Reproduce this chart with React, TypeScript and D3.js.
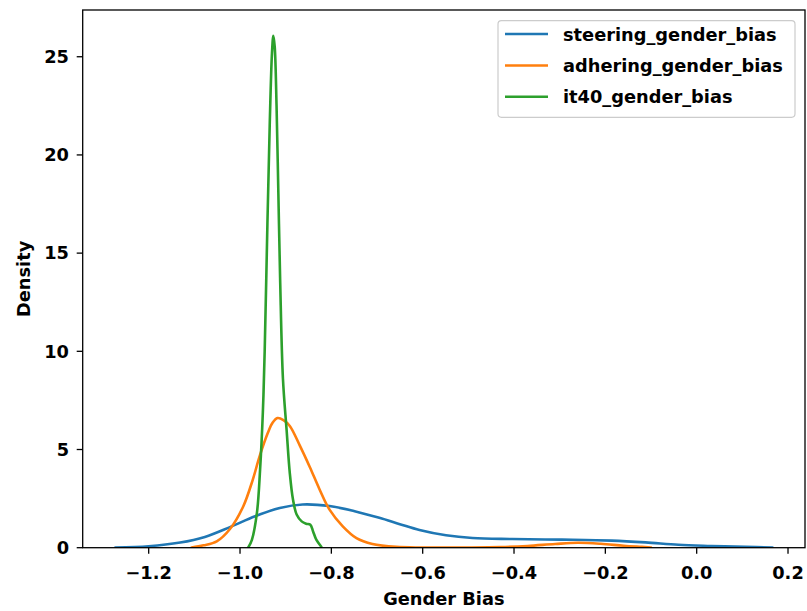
import React from "react";
import * as d3 from "d3";

const steeringX = [-1.273, -1.2, -1.131, -1.077, -1.022, -0.967, -0.913, -0.863, -0.804, -0.749, -0.695, -0.65, -0.607, -0.549, -0.491, -0.404, -0.295, -0.186, -0.112, -0.04, 0.032, 0.107, 0.166];
const steeringY = [0.01, 0.07, 0.26, 0.55, 1.05, 1.6, 2.02, 2.2, 2.12, 1.86, 1.52, 1.2, 0.9, 0.63, 0.49, 0.44, 0.41, 0.36, 0.27, 0.15, 0.09, 0.04, 0.01];

const adheringX = [-1.106, -1.08, -1.051, -1.022, -0.993, -0.972, -0.957, -0.939, -0.929, -0.918, -0.905, -0.891, -0.869, -0.847, -0.826, -0.804, -0.775, -0.745, -0.71, -0.658, -0.6, -0.5, -0.43, -0.37, -0.31, -0.26, -0.21, -0.16, -0.12, -0.1];
const adheringY = [0.01, 0.12, 0.32, 0.95, 2.1, 3.47, 4.66, 5.85, 6.35, 6.6, 6.5, 6.2, 5.2, 4.1, 2.98, 1.94, 1.09, 0.49, 0.19, 0.04, 0.01, 0.01, 0.03, 0.09, 0.19, 0.25, 0.2, 0.1, 0.04, 0.01];

const it40X = [-0.982, -0.974, -0.963, -0.956, -0.95, -0.946, -0.94, -0.935, -0.93, -0.927, -0.924, -0.92, -0.916, -0.912, -0.906, -0.898, -0.891, -0.884, -0.876, -0.865, -0.855, -0.846, -0.84, -0.833, -0.822];
const it40Y = [0.01, 0.4, 1.77, 4.0, 6.9, 10, 16.5, 21.5, 25.2, 26.07, 25.5, 22.5, 18, 13.5, 8.6, 6.0, 3.8, 2.45, 1.69, 1.34, 1.22, 1.17, 0.83, 0.41, 0.05];

const seriesNames = ["steering_gender_bias", "adhering_gender_bias", "it40_gender_bias"];
const seriesColors = ["#1f77b4", "#ff7f0e", "#2ca02c"];
const xTicks = [-1.2, -1.0, -0.8, -0.6, -0.4, -0.2, 0.0, 0.2];
const yTicks = [0, 5, 10, 15, 20, 25];

const W = 807, H = 611;
const left = 82.7, right = 805, top = 10, bottom = 547.7;
const FONT = "'DejaVu Sans', sans-serif";
const FS = 17.8;

export default function App() {
  const x = d3.scaleLinear().domain([-1.3445, 0.2372]).range([left, right]);
  const y = d3.scaleLinear().domain([0, 27.38]).range([bottom, top]);
  const line = d3
    .line<[number, number]>()
    .x((d) => x(d[0]))
    .y((d) => y(Math.max(0, d[1])))
    .curve(d3.curveCatmullRom.alpha(0.5));
  const series = [
    steeringX.map((v, i) => [v, steeringY[i]] as [number, number]),
    adheringX.map((v, i) => [v, adheringY[i]] as [number, number]),
    it40X.map((v, i) => [v, it40Y[i]] as [number, number]),
  ];
  const legX = 498, legY = 20.7, legW = 297, legH = 96.6;
  const entryY = [34, 65.5, 96.7];
  return (
    <svg width={W} height={H} style={{ position: "absolute", left: 0, top: 0, background: "#fff" }} fontFamily={FONT} fontWeight="bold">
      <rect x={0} y={0} width={W} height={H} fill="#fff" />
      <defs>
        <clipPath id="plot">
          <rect x={left} y={top} width={right - left} height={bottom - top} />
        </clipPath>
      </defs>
      <g clipPath="url(#plot)">
        {series.map((s, i) => (
          <path key={i} d={line(s) || ""} fill="none" stroke={seriesColors[i]} strokeWidth={2.6} strokeLinejoin="round" strokeLinecap="round" />
        ))}
      </g>
      <rect x={left} y={top} width={right - left} height={bottom - top} fill="none" stroke="#000" strokeWidth={1.3} />
      {xTicks.map((t) => (
        <g key={t}>
          <line x1={x(t)} x2={x(t)} y1={bottom} y2={bottom + 6} stroke="#000" strokeWidth={1.3} />
          <text x={x(t)} y={579.3} textAnchor="middle" fontSize={FS} fill="#000">
            {d3.format(".1f")(t).replace("-", "\u2212")}
          </text>
        </g>
      ))}
      {yTicks.map((t) => (
        <g key={t}>
          <line x1={left - 6} x2={left} y1={y(t)} y2={y(t)} stroke="#000" strokeWidth={1.3} />
          <text x={69} y={y(t) + 6.3} textAnchor="end" fontSize={FS} fill="#000">
            {t}
          </text>
        </g>
      ))}
      <text x={(left + right) / 2} y={605} textAnchor="middle" fontSize={FS} fill="#000">
        Gender Bias
      </text>
      <text transform={`translate(30,${(top + bottom) / 2}) rotate(-90)`} textAnchor="middle" fontSize={FS} fill="#000">
        Density
      </text>
      <rect x={legX} y={legY} width={legW} height={legH} rx={3.5} fill="#fff" fillOpacity={0.8} stroke="#cccccc" strokeWidth={1.2} />
      {seriesNames.map((n, i) => (
        <g key={n}>
          <line x1={505} x2={548} y1={entryY[i]} y2={entryY[i]} stroke={seriesColors[i]} strokeWidth={2.6} />
          <text x={563} y={entryY[i] + 6.5} fontSize={FS} fill="#000">
            {n}
          </text>
        </g>
      ))}
    </svg>
  );
}
